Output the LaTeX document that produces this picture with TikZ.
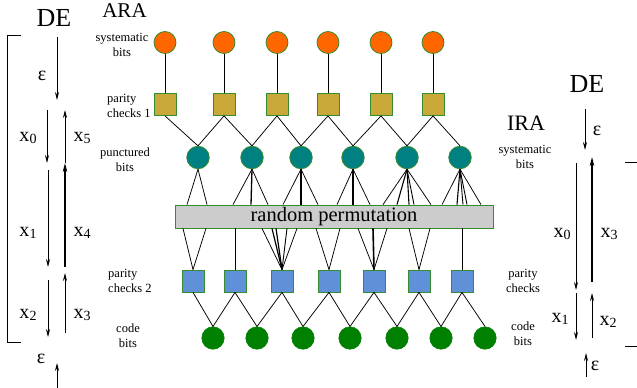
\documentclass[tikz,border=0pt]{standalone}
\usepackage{fontspec}
\setmainfont{Liberation Serif}
\usetikzlibrary{arrows.meta}

\definecolor{sysorange}{RGB}{255,102,0}
\definecolor{chkgold}{RGB}{200,168,56}
\definecolor{punteal}{RGB}{0,128,128}
\definecolor{chkblue}{RGB}{96,144,216}
\definecolor{codegreen}{RGB}{0,128,0}
\definecolor{rimgreen}{RGB}{56,140,48}
\definecolor{permgray}{RGB}{204,204,204}

% x with a lowered digit
\newcommand{\xsub}[1]{x\raisebox{-0.32ex}{\fontsize{14pt}{14pt}\selectfont #1}}

\tikzset{
  sysbit/.style={circle, minimum size=22pt, inner sep=0pt, fill=sysorange, draw=rimgreen, line width=0.8pt},
  chkone/.style={rectangle, minimum size=22pt, inner sep=0pt, fill=chkgold, draw=rimgreen, line width=0.8pt},
  puncbit/.style={circle, minimum size=22.5pt, inner sep=0pt, fill=punteal, draw=rimgreen, line width=0.8pt},
  chktwo/.style={rectangle, minimum size=22pt, inner sep=0pt, fill=chkblue, draw=rimgreen, line width=0.8pt},
  codebit/.style={circle, minimum size=22.5pt, inner sep=0pt, fill=codegreen, draw=codegreen, line width=0.5pt},
  permbox/.style={rectangle, minimum width=318pt, minimum height=23pt, inner sep=0pt, fill=permgray, draw=rimgreen, line width=0.8pt, font=\fontsize{20.5pt}{22pt}\selectfont},
  edge/.style={draw=black, line width=0.75pt},
  small/.style={font=\fontsize{12.5pt}{15pt}\selectfont, align=center, inner sep=0pt},
  big/.style={anchor=base, inner sep=0pt},
  xlab/.style={anchor=base, inner sep=0pt, font=\fontsize{20pt}{20pt}\selectfont},
  arr/.style={-{Stealth[length=8pt,width=4pt]}, line width=0.8pt},
  boldarr/.style={-{Stealth[length=9pt,width=4.5pt]}, line width=1.5pt},
}

\begin{document}
\begin{tikzpicture}[x=1pt,y=-1pt]
\useasboundingbox (0,0) rectangle (637,388);

% ---------------- the code graph ----------------
\foreach \i/\xx in {1/165,2/224,3/277,4/328,5/381,6/433} {
  \node[sysbit] (s\i) at (\xx,42.5) {};
  \node[chkone] (c\i) at (\xx,104.5) {};
}
\foreach \i/\xx in {1/198,2/252,3/301,4/353,5/407,6/460}
  \node[puncbit] (p\i) at (\xx,157.5) {};
\foreach \i/\xx in {1/193,2/235,3/282,4/329,5/374,6/419,7/462}
  \node[chktwo] (q\i) at (\xx,281) {};
\foreach \i/\xx in {1/213,2/257,3/303,4/350,5/397,6/441,7/485}
  \node[codebit] (b\i) at (\xx,338) {};

\node[permbox] (perm) at (334,216.5) {random permutation};

% systematic bits to first checks
\foreach \i in {1,...,6}
  \draw[edge] (s\i) -- (c\i);

% first checks to punctured bits
\draw[edge] (c1.south) -- (p1.north);
\foreach \i/\j in {2/1,3/2,4/3,5/4,6/5} {
  \draw[edge] (c\i.south) -- (p\j.north);
  \draw[edge] (c\i.south) -- (p\i.north);
}

% punctured bits into the permutation
\foreach \n/\xx/\w in {p1/187/0.75, p1/207/0.75,
    p2/233/0.75, p2/251/1.3, p2/268/0.75,
    p3/283/0.75, p3/301/1.3, p3/318/0.75,
    p4/337/0.75, p4/353/1.2, p4/370/0.75,
    p5/383/0.75, p5/397/1.1, p5/409/1.1, p5/414/0.9, p5/431/0.75,
    p6/442/0.75, p6/457/1.1, p6/463/0.9, p6/467/0.9, p6/481/0.75}
  \draw[edge, line width=\w pt] (\n.south) -- (perm.north -| \xx,0);

% permutation out to the second checks
\foreach \n/\xx/\w in {q1/183/0.75, q1/206/0.75,
    q2/235/1.0,
    q3/262/0.75, q3/272/1.2, q3/276/1.2, q3/287/0.9, q3/297/0.75,
    q4/316/0.75, q4/340/0.75,
    q5/358/0.75, q5/373/1.6, q5/387/0.75,
    q6/409/0.75, q6/430/0.75,
    q7/462/1.0}
  \draw[edge, line width=\w pt] (perm.south -| \xx,0) -- (\n.north);

% second checks to code bits
\draw[edge] (q1.south) -- (b1.north);
\foreach \i/\j in {2/1,3/2,4/3,5/4,6/5,7/6} {
  \draw[edge] (q\i.south) -- (b\j.north);
  \draw[edge] (q\i.south) -- (b\i.north);
}

% ---------------- labels ----------------
\node[big, font=\fontsize{21pt}{21pt}\selectfont] (ara) at (124.5,17) {ARA};
\node[small] (lsys) at (122,45) {systematic\\bits};
\node[small, align=left, anchor=west] (lchk1) at (107,105.5) {parity\\checks 1};
\node[small] (lpunc) at (125,160) {punctured\\bits};
\node[small, align=left, anchor=west] (lchk2) at (108,281) {parity\\checks 2};
\node[small] (lcode) at (128,336) {code\\bits};

\node[big, font=\fontsize{22pt}{22pt}\selectfont] (ira) at (526,130) {IRA};
\node[small] (rsys) at (525,157) {systematic\\bits};
\node[small] (rchk) at (523,281) {parity\\checks};
\node[small] (rcode) at (523,334) {code\\bits};

% ---------------- density evolution, ARA ----------------
\node[big, font=\fontsize{26pt}{26pt}\selectfont] (deL) at (54,27) {DE};
\draw[line width=0.8pt] (21,35) -- (7,35) -- (7,342) -- (21,342);
\node[xlab] (eL1) at (42,80) {ε};
\draw[arr] (57,37) -- (57,100);
\node[xlab] (x0L) at (28,141) {\xsub0};
\draw[arr] (47,110) -- (47,163);
\node[xlab] (x5L) at (82,141) {\xsub5};
\draw[arr] (65,163) -- (65,110);
\node[xlab] (x1L) at (28,236) {\xsub1};
\draw[arr] (48,170) -- (48,267);
\node[xlab] (x4L) at (82,236) {\xsub4};
\draw[boldarr] (65,267) -- (65,163);
\node[xlab] (x2L) at (28,318) {\xsub2};
\draw[arr] (48,280) -- (48,337);
\node[xlab] (x3L) at (82,318) {\xsub3};
\draw[arr] (65,333) -- (65,273);
\node[xlab] (eL2) at (41,363) {ε};
\draw[arr] (57,388) -- (57,363);

% ---------------- density evolution, IRA ----------------
\node[big, font=\fontsize{26pt}{26pt}\selectfont] (deR) at (587,92) {DE};
\draw[line width=0.8pt] (625,162) -- (637,162);
\draw[line width=0.8pt] (625,346) -- (637,346);
\node[xlab] (eR1) at (597,135) {ε};
\draw[arr] (585,109) -- (585,150);
\node[xlab] (x0R) at (562,237) {\xsub0};
\draw[arr] (576,163) -- (576,290);
\node[xlab] (x3R) at (609,237) {\xsub3};
\draw[boldarr] (592,282) -- (592,157);
\node[xlab] (x1R) at (560,322) {\xsub1};
\draw[arr] (576,293) -- (576,340);
\node[xlab] (x2R) at (608,325) {\xsub2};
\draw[arr] (592,338) -- (592,293);
\node[xlab] (eR2) at (595,370) {ε};
\draw[arr] (586,377) -- (586,353);
\end{tikzpicture}
\end{document}
